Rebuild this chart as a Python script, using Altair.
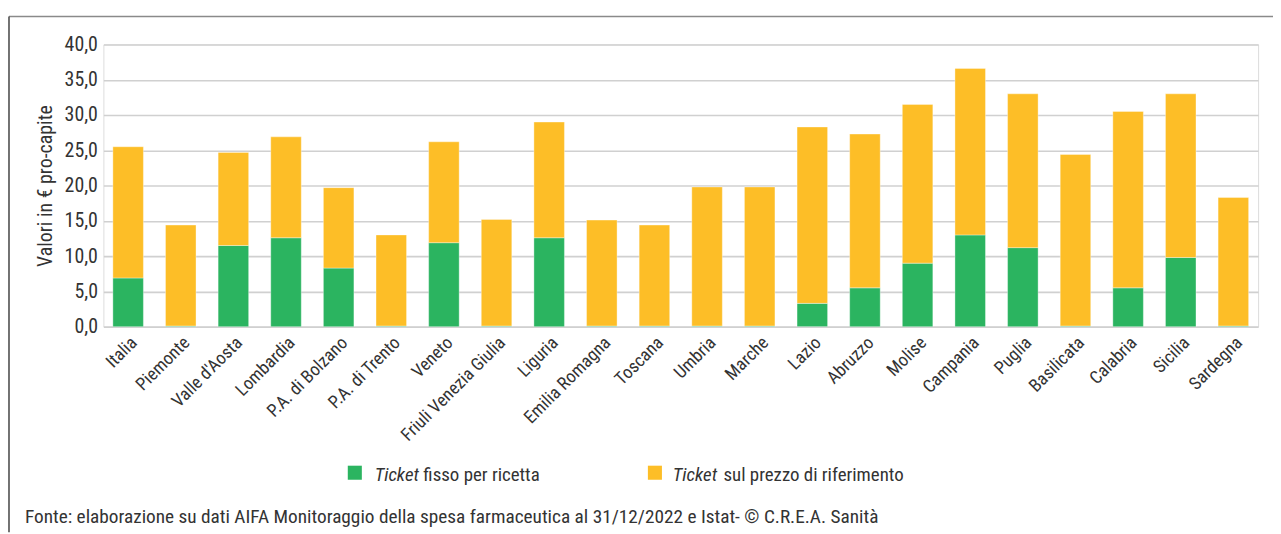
import altair as alt
import pandas as pd

regions = ["Italia", "Piemonte", "Valle d'Aosta", "Lombardia", "P.A. di Bolzano",
           "P.A. di Trento", "Veneto", "Friuli Venezia Giulia", "Liguria",
           "Emilia Romagna", "Toscana", "Umbria", "Marche", "Lazio", "Abruzzo",
           "Molise", "Campania", "Puglia", "Basilicata", "Calabria", "Sicilia",
           "Sardegna"]
ticket_fisso = [6.9, 0.1, 11.5, 12.6, 8.3, 0.1, 11.9, 0.1, 12.6, 0.1, 0.1, 0.1,
                0.1, 3.3, 5.5, 9.0, 13.0, 11.2, 0.1, 5.5, 9.8, 0.1]
totale = [25.5, 14.4, 24.7, 26.9, 19.7, 13.0, 26.2, 15.2, 29.0, 15.1, 14.4, 19.8,
          19.8, 28.3, 27.3, 31.5, 36.6, 33.0, 24.4, 30.5, 33.0, 18.3]
ticket_rif = [round(t - f, 2) for t, f in zip(totale, ticket_fisso)]

series = ["Ticket fisso per ricetta", "Ticket sul prezzo di riferimento"]
colors = ["#2bb460", "#fdbe27"]
y_ticks = [0, 5, 10, 15, 20, 25, 30, 35, 40]

rows = []
for i, r in enumerate(regions):
    rows.append({"regione": r, "serie": series[0], "valore": ticket_fisso[i], "ord": 0})
    rows.append({"regione": r, "serie": series[1], "valore": ticket_rif[i], "ord": 1})
df = pd.DataFrame(rows)

FONT = "Roboto Condensed, DejaVu Sans Condensed, Liberation Sans, Arial, sans-serif"
TXT = "#333333"

bars = alt.Chart(df).mark_bar(stroke="#ffffff", strokeWidth=0.6, strokeOpacity=0.6).encode(
    x=alt.X("regione:N", sort=regions, title=None,
            scale=alt.Scale(paddingInner=0.42, paddingOuter=0.18),
            axis=alt.Axis(labelAngle=-45, labelFontSize=18, labelColor=TXT, labelFont=FONT,
                          domain=False, ticks=False, labelPadding=7, labelOverlap=False)),
    y=alt.Y("valore:Q", stack="zero", title="Valori in € pro-capite",
            scale=alt.Scale(domain=[0, 40], nice=False),
            axis=alt.Axis(values=y_ticks, grid=True, gridColor="#d0d0d0", gridWidth=1.6,
                          domain=False, ticks=False, labelFontSize=20, labelColor=TXT,
                          labelFont=FONT, labelPadding=6,
                          labelExpr="replace(format(datum.value, '.1f'), '.', ',')",
                          titleFont=FONT, titleFontSize=20, titleFontWeight="normal",
                          titleColor=TXT, titlePadding=9)),
    color=alt.Color("serie:N", scale=alt.Scale(domain=series, range=colors), legend=None),
    order=alt.Order("ord:Q"),
)

leg_df = pd.DataFrame({"serie": series, "rest": ["fisso per ricetta", "sul prezzo di riferimento"],
                       "px": [253, 555], "tix": [273, 573], "rx": [322, 624]})

leg_sq = alt.Chart(leg_df).mark_square(size=200, opacity=1).encode(
    x=alt.X("px:Q", scale=None), y=alt.value(431),
    color=alt.Color("serie:N", scale=alt.Scale(domain=series, range=colors), legend=None),
)
leg_it = alt.Chart(leg_df).mark_text(
    text="Ticket", fontStyle="italic", font=FONT, fontSize=19, color=TXT,
    align="left", baseline="alphabetic").encode(
    x=alt.X("tix:Q", scale=None), y=alt.value(439))
leg_rest = alt.Chart(leg_df).mark_text(
    font=FONT, fontSize=19, color=TXT, align="left", baseline="alphabetic").encode(
    x=alt.X("rx:Q", scale=None), y=alt.value(439), text="rest:N")

footer = alt.Chart(pd.DataFrame({"t": ["Fonte: elaborazione su dati AIFA Monitoraggio della spesa farmaceutica al 31/12/2022 e Istat- © C.R.E.A. Sanità"]})).mark_text(
    font=FONT, fontSize=19.4, color=TXT, align="left", baseline="alphabetic").encode(
    x=alt.value(-79), y=alt.value(482), text="t:N")

frame_top = alt.Chart(pd.DataFrame({"a": [0]})).mark_rule(color="#8a8a8a", strokeWidth=1.5).encode(
    x=alt.value(-95), x2=alt.value(1177), y=alt.value(-28))
frame_left = alt.Chart(pd.DataFrame({"a": [0]})).mark_rule(color="#444444", strokeWidth=1.5).encode(
    x=alt.value(-95), y=alt.value(-28), y2=alt.value(491))

chart = alt.layer(bars, leg_sq, leg_it, leg_rest, footer, frame_top, frame_left).properties(
    width=1162, height=284,
    autosize=alt.AutoSizeParams(type="none"),
    padding={"left": 96, "top": 35, "right": 15, "bottom": 207},
).configure_view(stroke=None).configure(background="#ffffff")

chart.save("out.html", embed_options={"renderer": "svg", "actions": False})
